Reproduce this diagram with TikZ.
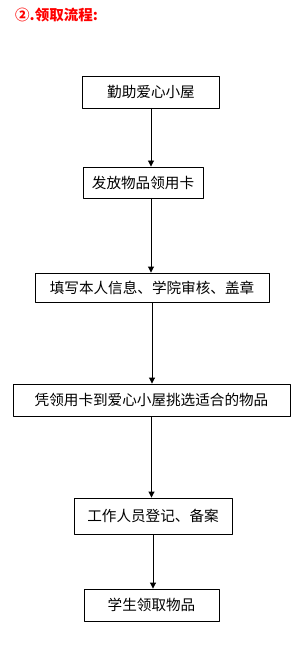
\documentclass[tikz,border=0pt]{standalone}
\usepackage{fontspec}
\newfontfamily\cjk{Noto Sans CJK SC}
\usetikzlibrary{arrows.meta}

\begin{document}
\begin{tikzpicture}[x=1pt,y=-1pt,>={Triangle[length=6pt,width=6pt]},
    line cap=round,line join=round,
    stepbox/.style={draw,line width=.9pt,inner sep=0pt,
      font=\cjk\fontsize{14.6}{16}\selectfont},
    flow/.style={->,line width=.9pt}]
    \useasboundingbox (0,0) rectangle (301,668);

    % heading in red, top left
    \node[anchor=west,text=red,inner sep=0pt,
      font=\cjk\bfseries\fontsize{14.5}{16}\selectfont]
      (title) at (15,15) {②.领取流程:};

    % the six steps, top to bottom
    \node[stepbox,minimum width=137,minimum height=32] (help) at (151,92) {勤助爱心小屋};
    \node[stepbox,minimum width=120,minimum height=31] (card) at (143,182.5) {发放物品领用卡};
    \node[stepbox,minimum width=234,minimum height=29] (fill) at (152,287.5) {填写本人信息、学院审核、盖章};
    \node[stepbox,minimum width=277,minimum height=32] (pick) at (151.5,400) {凭领用卡到爱心小屋挑选适合的物品};
    \node[stepbox,minimum width=158,minimum height=36] (book) at (153,516) {工作人员登记、备案};
    \node[stepbox,minimum width=135,minimum height=32] (take) at (151.5,605) {学生领取物品};

    % the arrows drop straight down from each box
    \draw[flow] (help.south) -- (help.south |- card.north);
    \draw[flow] (help.south |- card.south) -- (help.south |- fill.north);
    \draw[flow] (fill.south) -- (fill.south |- pick.north);
    \draw[flow] (pick.south) -- (pick.south |- book.north);
    \draw[flow] (book.south) -- (book.south |- take.north);
  \end{tikzpicture}
\end{document}
